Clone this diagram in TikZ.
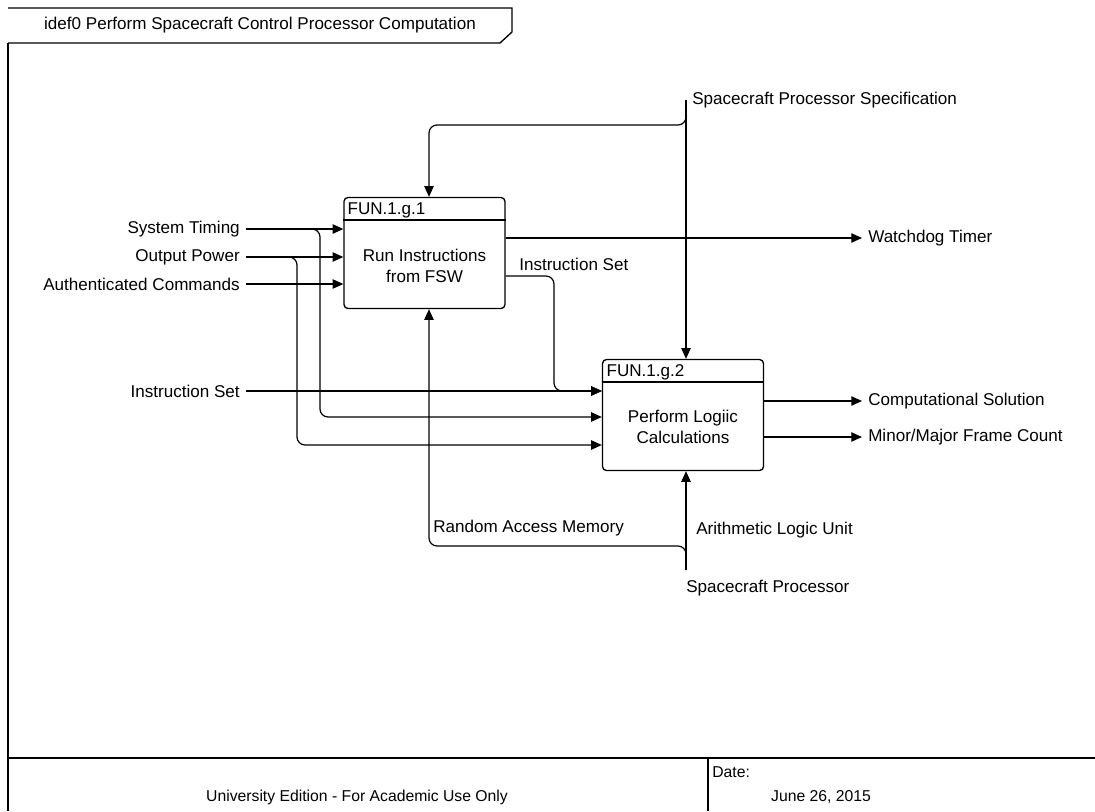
\documentclass[tikz,border=0pt]{standalone}
\usepackage{fontspec}
\setmainfont{Liberation Sans}
\usetikzlibrary{arrows.meta,positioning}
\tikzset{
    lbl/.style={inner sep=4.5pt, font=\fontsize{12.8}{15.75}\selectfont},
    func box/.style={
        draw, line width=1pt, rounded corners=3pt,
        minimum width=120.75pt, minimum height=83.25pt, inner sep=0pt
    },
    func id/.style={anchor=west, inner sep=1pt, font=\fontsize{12.8}{15.75}\selectfont},
    func name/.style={align=center, inner sep=1pt, font=\fontsize{12.8}{15.75}\selectfont},
    flow/.style={line width=0.9pt, -{Triangle[length=8pt,width=7pt]}},
    branch/.style={flow, rounded corners=6pt},
    frame line/.style={line width=1pt},
    foot/.style={inner sep=0pt, font=\fontsize{11.8}{14}\selectfont}
}
\begin{document}
\begin{tikzpicture}[x=0.75pt, y=-0.75pt]
    \useasboundingbox (0,0) rectangle (1095,811);
    \fill[white] (0,0) rectangle (1095,811);

    % frame
    \draw[line width=2.2pt] (8,43) -- (8,811);
    \draw[frame line] (8,8) -- (512,8) -- (512,32) -- (500,43) -- (8,43);
    \draw[line width=1.6pt] (8,758) -- (1095,758);
    \draw[frame line] (708,758) -- (708,811);
    \node[lbl] (title) at (260,25) {idef0 Perform Spacecraft Control Processor Computation};
    \node[foot] (edition) at (357,797) {University Edition - For Academic Use Only};
    \node[foot, anchor=west] (datelbl) at (712,772) {Date:};
    \node[foot] (date) at (821,797) {June 26, 2015};

    % functions
    \node[func box] (b1) at (424.5,253) {};
    \node[func box] (b2) at (683,415) {};
    \draw[line width=1pt] ([yshift=-17.25pt]b1.north west) -- ([yshift=-17.25pt]b1.north east);
    \draw[line width=1pt] ([yshift=-17.25pt]b2.north west) -- ([yshift=-17.25pt]b2.north east);
    \node[func id] (b1id) at (346,210) {FUN.1.g.1};
    \node[func id] (b2id) at (605,372) {FUN.1.g.2};
    \node[func name] (b1name) at (424.5,266) {Run Instructions\\from FSW};
    \node[func name] (b2name) at (683,427) {Perform Logiic\\Calculations};

    % labels
    \node[lbl, anchor=east] (st) at (246,229) {System Timing};
    \node[lbl, anchor=east] (op) at (246,257) {Output Power};
    \node[lbl, anchor=east] (ac) at (246,284) {Authenticated Commands};
    \node[lbl, anchor=east] (isin) at (246,391) {Instruction Set};
    \node[lbl, anchor=west] (wt) at (862,238) {Watchdog Timer};
    \node[lbl, anchor=west] (cs) at (862,401) {Computational Solution};
    \node[lbl, anchor=west] (mf) at (862,437) {Minor/Major Frame Count};
    \node[lbl, anchor=west] (sps) at (686,100) {Spacecraft Processor Specification};
    \node[lbl, anchor=west] (isout) at (513,264) {Instruction Set};
    \node[lbl, anchor=west] (ram) at (427,528) {Random Access Memory};
    \node[lbl, anchor=west] (alu) at (690,530) {Arithmetic Logic Unit};
    \node[lbl, anchor=west] (sp) at (680,588) {Spacecraft Processor};

    \coordinate (stbr) at (320,229);
    \coordinate (opbr) at (297,257);
    \coordinate (in2) at ([yshift=-1.5pt]b2.west);
    \coordinate (in3) at ([yshift=-22.5pt]b2.west);
    \coordinate (out1) at ([yshift=11.25pt]b1.east);
    \coordinate (out2) at ([yshift=-17.25pt]b1.east);
    \coordinate (isbr) at (554,276);
    \coordinate (ctlbr) at (686,125);
    \coordinate (ctl1) at (429,125);
    \coordinate (spend) at (686,570);
    \coordinate (mbr) at (686,546);
    \coordinate (mech1) at (429,546);

    % inputs
    \draw[flow] (st.east) -- (st.east -| b1.west);
    \draw[flow] (op.east) -- (op.east -| b1.west);
    \draw[flow] (ac.east) -- (ac.east -| b1.west);
    \draw[flow] (isin.east) -- (isin.east -| b2.west);
    \draw[branch] (st.east) -- (stbr) -- (stbr |- in2) -- (in2);
    \draw[branch] (op.east) -- (opbr) -- (opbr |- in3) -- (in3);

    % outputs
    \draw[flow] (out1) -- (wt.west);
    \draw[branch] (out2) -- (isbr) -- (isbr |- isin.east) -- (isin.east -| b2.west);
    \draw[flow] (cs.west -| b2.east) -- (cs.west);
    \draw[flow] (mf.west -| b2.east) -- (mf.west);

    % controls
    \draw[flow] (sps.west) -- (sps.west |- b2.north);
    \draw[branch] (sps.west) -- (ctlbr) -- (ctl1) -- (ctl1 |- b1.north);

    % mechanisms
    \draw[flow] (spend) -- (spend |- b2.south);
    \draw[branch] (spend) -- (mbr) -- (mech1) -- (mech1 |- b1.south);
\end{tikzpicture}
\end{document}
